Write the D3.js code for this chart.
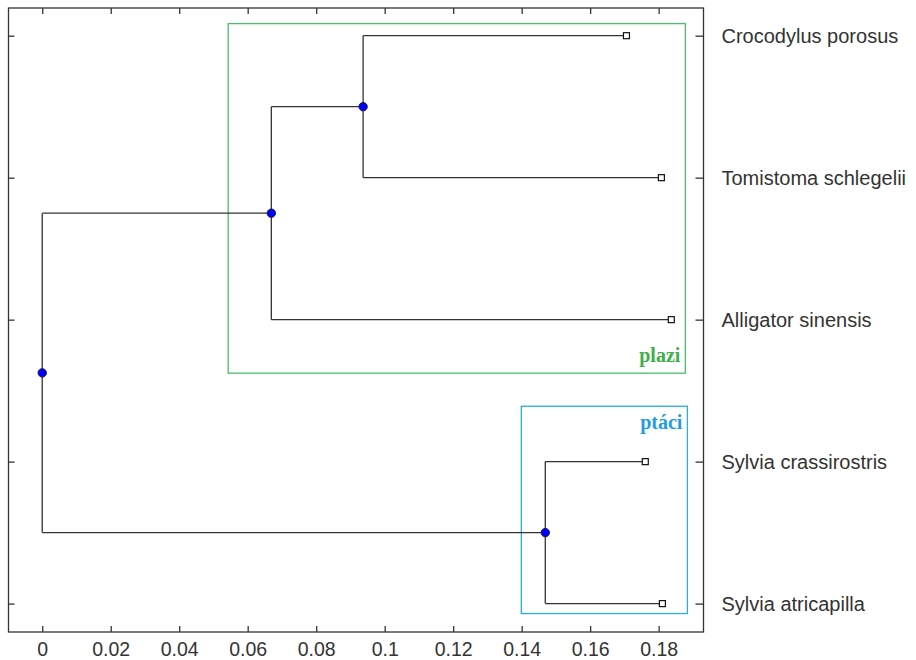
<!DOCTYPE html>
<html>
<head>
<meta charset="utf-8">
<script src="https://cdn.jsdelivr.net/npm/d3@7"></script>
<style>
body { margin: 0; background: #fff; }
svg { display: block; }
</style>
</head>
<body>
<svg id="chart" width="916" height="660"></svg>
<script>
// Leaves (top to bottom) and their branch lengths (distance from root)
const leafNames = ["Crocodylus porosus", "Tomistoma schlegelii", "Alligator sinensis", "Sylvia crassirostris", "Sylvia atricapilla"];
const leafDist = [0.1706, 0.1808, 0.1837, 0.1761, 0.1811];
// Internal nodes: id, distance, children
const nodeIds = ["CT", "CTA", "S", "root"];
const nodeDist = [0.0937, 0.0669, 0.1469, 0.0];
const nodeChildren = [["L0", "L1"], ["CT", "L2"], ["L3", "L4"], ["CTA", "S"]];
const xTicks = [0, 0.02, 0.04, 0.06, 0.08, 0.1, 0.12, 0.14, 0.16, 0.18];
// Clade boxes: [x0, x1, y0, y1] in data units, label
const cladeNames = ["plazi", "ptáci"];
const cladeX = [[0.0543, 0.1878], [0.1399, 0.1884]];
const cladeY = [[0.915, 3.377], [3.61, 5.07]];
const cladeColors = ["#4dbd6b", "#2aabe4"];
const cladeTextColors = ["#3fae4c", "#1f9ee2"];

const svg = d3.select("#chart");
const pLeft = 8.5, pRight = 703.5, pTop = 8, pBottom = 632;
const x = d3.scaleLinear().domain([-0.00985, 0.1931]).range([pLeft, pRight]);
const y = d3.scaleLinear().domain([0.805, 5.2]).range([pTop, pBottom]);

// Build node map
const nodes = {};
leafNames.forEach((n, i) => nodes["L" + i] = {dist: leafDist[i], pos: i + 1, leaf: true});
function getNode(id) {
  if (nodes[id]) return nodes[id];
  const k = nodeIds.indexOf(id);
  const ch = nodeChildren[k].map(getNode);
  const nd = {dist: nodeDist[k], children: ch, pos: (ch[0].pos + ch[ch.length - 1].pos) / 2};
  nodes[id] = nd;
  return nd;
}
const root = getNode("root");

// Clade boxes
cladeNames.forEach((name, i) => {
  svg.append("rect")
    .attr("x", x(cladeX[i][0])).attr("y", y(cladeY[i][0]))
    .attr("width", x(cladeX[i][1]) - x(cladeX[i][0]))
    .attr("height", y(cladeY[i][1]) - y(cladeY[i][0]))
    .attr("fill", "none").attr("stroke", cladeColors[i]).attr("stroke-width", 1.3);
});
svg.append("text").attr("x", x(cladeX[0][1]) - 5).attr("y", y(cladeY[0][1]) - 11)
  .attr("text-anchor", "end").attr("font-family", "Liberation Serif, serif").attr("font-weight", "bold")
  .attr("font-size", 20).attr("fill", cladeTextColors[0]).text(cladeNames[0]);
svg.append("text").attr("x", x(cladeX[1][1]) - 5).attr("y", y(cladeY[1][0]) + 23)
  .attr("text-anchor", "end").attr("font-family", "Liberation Serif, serif").attr("font-weight", "bold")
  .attr("font-size", 20).attr("fill", cladeTextColors[1]).text(cladeNames[1]);

// Branches
const lines = svg.append("g").attr("stroke", "#333").attr("stroke-width", 1.3).attr("fill", "none");
const internal = [];
function drawBranches(nd) {
  if (!nd.children) return;
  internal.push(nd);
  const ys = nd.children.map(c => y(c.pos));
  lines.append("line").attr("x1", x(nd.dist)).attr("x2", x(nd.dist))
    .attr("y1", d3.min(ys)).attr("y2", d3.max(ys));
  nd.children.forEach(c => {
    lines.append("line").attr("x1", x(nd.dist)).attr("x2", x(c.dist))
      .attr("y1", y(c.pos)).attr("y2", y(c.pos));
    drawBranches(c);
  });
}
drawBranches(root);

// Leaf markers
leafNames.forEach((n, i) => {
  svg.append("rect").attr("x", x(leafDist[i]) - 3).attr("y", y(i + 1) - 3)
    .attr("width", 6).attr("height", 6).attr("fill", "#fff").attr("stroke", "#111").attr("stroke-width", 1.2);
});
// Internal node markers
internal.forEach(nd => {
  svg.append("circle").attr("cx", x(nd.dist)).attr("cy", y(nd.pos)).attr("r", 4.2)
    .attr("fill", "#0000ff").attr("stroke", "#1a1a40").attr("stroke-width", 1);
});

// Frame
svg.append("rect").attr("x", pLeft).attr("y", pTop).attr("width", pRight - pLeft).attr("height", pBottom - pTop)
  .attr("fill", "none").attr("stroke", "#333").attr("stroke-width", 1.3);

// Axes
const fmt = d => d === 0 ? "0" : d3.format("~g")(d);
const xb = svg.append("g").attr("transform", `translate(0,${pBottom})`)
  .call(d3.axisBottom(x).tickValues(xTicks).tickFormat(fmt).tickSizeInner(-6).tickSizeOuter(0).tickPadding(10));
const xt = svg.append("g").attr("transform", `translate(0,${pTop})`)
  .call(d3.axisTop(x).tickValues(xTicks).tickFormat("").tickSizeInner(-6).tickSizeOuter(0));
const yl = svg.append("g").attr("transform", `translate(${pLeft},0)`)
  .call(d3.axisLeft(y).tickValues([1, 2, 3, 4, 5]).tickFormat("").tickSizeInner(-6).tickSizeOuter(0));
const yr = svg.append("g").attr("transform", `translate(${pRight},0)`)
  .call(d3.axisRight(y).tickValues([1, 2, 3, 4, 5]).tickFormat((d) => leafNames[d - 1]).tickSizeInner(-8).tickSizeOuter(0).tickPadding(18));
[xb, xt, yl, yr].forEach(g => {
  g.select(".domain").remove();
  g.selectAll("line").attr("stroke", "#333").attr("stroke-width", 1.3);
  g.selectAll("text").attr("font-family", "Liberation Sans, Arial, sans-serif").attr("fill", "#333");
});
xb.selectAll("text").attr("font-size", 19.5);
yr.selectAll("text").attr("font-size", 20);
</script>
</body>
</html>
